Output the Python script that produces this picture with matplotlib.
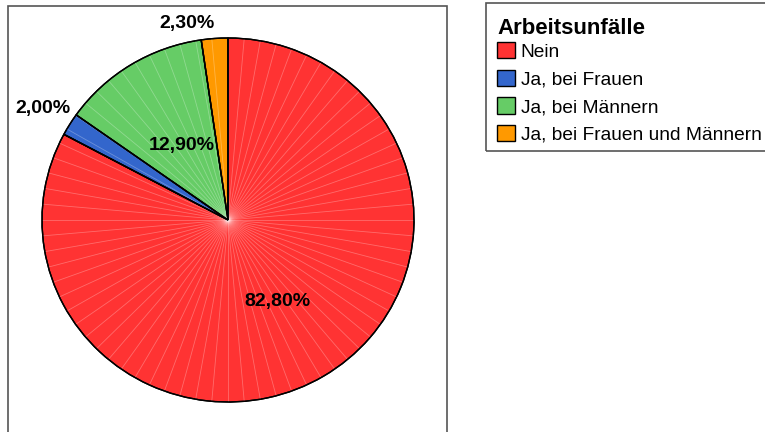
import matplotlib
matplotlib.use('Agg')
import matplotlib.pyplot as plt
import numpy as np
from matplotlib.patches import Rectangle

# ---- data ----
categories = ['Nein', 'Ja, bei Frauen', 'Ja, bei Männern', 'Ja, bei Frauen und Männern']
values = [82.8, 2.0, 12.9, 2.3]
value_labels = ['82,80%', '2,00%', '12,90%', '2,30%']
legend_title = 'Arbeitsunfälle'

# ---- style ----
colors = ['#FF3333', '#3366CC', '#66CC66', '#FF9900']
label_radius = [0.52, 1.17, 0.48, 1.10]
label_angle_shift = [0, 0, 0, 7.3]

plt.rcParams['font.family'] = ['Liberation Sans', 'DejaVu Sans']
W, H = 765, 432
fig = plt.figure(figsize=(W / 100, H / 100), dpi=100)

# plot-area frame
fig.patches.append(Rectangle((8 / W, -0.05), (447 - 8) / W, 1.05 - 6 / H,
                             transform=fig.transFigure, fill=False,
                             edgecolor='#555555', lw=1.2))
# legend frame
fig.patches.append(Rectangle((486 / W, 1 - 151 / H), (775 - 486) / W, (151 - 3) / H,
                             transform=fig.transFigure, fill=False,
                             edgecolor='#555555', lw=1.2))

cx, cy, rx, ry = 228, H - 220, 186, 182
ax = fig.add_axes([(cx - rx) / W, (cy - ry) / H, 2 * rx / W, 2 * ry / H])

wedges, _ = ax.pie(values, colors=colors, startangle=90, counterclock=False,
                   wedgeprops=dict(edgecolor='black', linewidth=1.0))
# white radial seams
for a in np.arange(0, 360, 5.0):
    t = np.deg2rad(a)
    ax.plot([0, np.cos(t)], [0, np.sin(t)], color='white', alpha=0.28, lw=0.6, zorder=1.5)
# redraw edges on top
ax.pie(values, startangle=90, counterclock=False,
       wedgeprops=dict(fill=False, edgecolor='black', linewidth=1.0, zorder=2))
ax.set_aspect('auto')
ax.set_xlim(-1, 1)
ax.set_ylim(-1, 1)

for w, lab, r, sh in zip(wedges, value_labels, label_radius, label_angle_shift):
    t = np.deg2rad((w.theta1 + w.theta2) / 2 + sh)
    ax.text(r * np.cos(t), r * np.sin(t), lab, ha='center', va='center',
            fontweight='bold', fontsize=14, zorder=5, clip_on=False)

leg = fig.legend(wedges, categories, title=legend_title, loc='upper left',
                 bbox_to_anchor=(497 / W, 1 - 18 / H), frameon=False,
                 fontsize=13.8, title_fontproperties={'weight': 'bold', 'size': 16},
                 handlelength=0.94, handleheight=0.94, handletextpad=0.3,
                 labelspacing=0.46, borderpad=0, borderaxespad=0)
leg._legend_box.align = 'left'
leg._legend_box.sep = 2.2

fig.savefig('out.png', dpi=100)
